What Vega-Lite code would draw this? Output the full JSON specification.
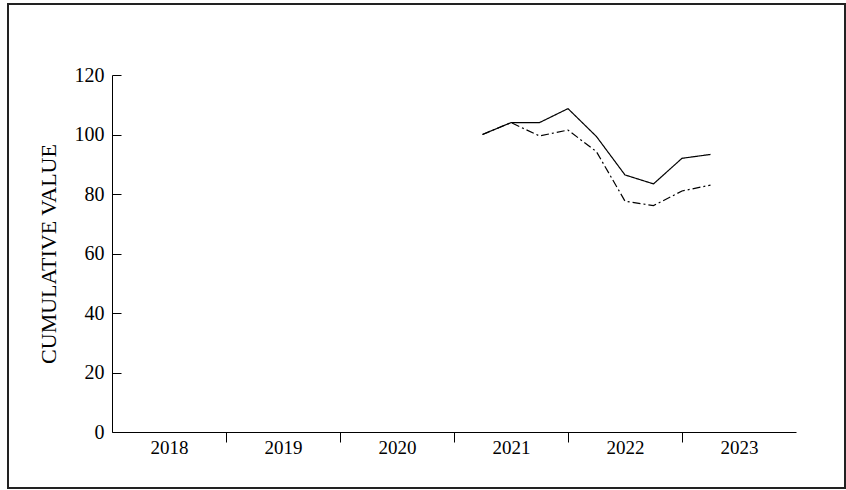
{
  "$schema": "https://vega.github.io/schema/vega-lite/v6.json",
  "width": 837,
  "height": 484,
  "autosize": "none",
  "padding": {"left": 8, "top": 4, "right": 1, "bottom": 2},
  "background": "white",
  "config": {
    "view": {"stroke": "#222222", "strokeWidth": 2},
    "font": "Liberation Serif",
    "axis": {
      "labelFont": "Liberation Serif",
      "titleFont": "Liberation Serif",
      "labelColor": "black",
      "titleColor": "black",
      "domainColor": "black",
      "tickColor": "black",
      "domainWidth": 1,
      "tickWidth": 1,
      "grid": false,
      "labelFontSize": 19,
      "titleFontSize": 22,
      "titleFontWeight": "normal"
    }
  },
  "data": {
    "values": [
      {"t": 2021.25, "v": 100, "series": "A"},
      {"t": 2021.5, "v": 104, "series": "A"},
      {"t": 2021.75, "v": 104, "series": "A"},
      {"t": 2022.0, "v": 108.7, "series": "A"},
      {"t": 2022.25, "v": 99.3, "series": "A"},
      {"t": 2022.5, "v": 86.4, "series": "A"},
      {"t": 2022.75, "v": 83.4, "series": "A"},
      {"t": 2023.0, "v": 92.0, "series": "A"},
      {"t": 2023.25, "v": 93.3, "series": "A"},
      {"t": 2021.25, "v": 100, "series": "B"},
      {"t": 2021.5, "v": 104, "series": "B"},
      {"t": 2021.75, "v": 99.5, "series": "B"},
      {"t": 2022.0, "v": 101.5, "series": "B"},
      {"t": 2022.25, "v": 94.2, "series": "B"},
      {"t": 2022.5, "v": 77.6, "series": "B"},
      {"t": 2022.75, "v": 76.1, "series": "B"},
      {"t": 2023.0, "v": 81.0, "series": "B"},
      {"t": 2023.25, "v": 83.0, "series": "B"}
    ]
  },
  "mark": {"type": "line", "color": "black", "strokeWidth": 1.2},
  "encoding": {
    "x": {
      "field": "t",
      "type": "quantitative",
      "scale": {"domain": [2018, 2024], "range": [104, 788], "nice": false, "zero": false},
      "axis": {
        "orient": "bottom",
        "offset": -56,
        "values": [2018, 2019, 2020, 2021, 2022, 2023],
        "format": "d",
        "labelOffset": 57,
        "labelPadding": -4,
        "labelFlush": false,
        "labelOverlap": false,
        "tickSize": 10,
        "tickOpacity": {"condition": {"test": "datum.value == 2018", "value": 0}, "value": 1},
        "title": null
      }
    },
    "y": {
      "field": "v",
      "type": "quantitative",
      "scale": {"domain": [0, 120], "range": [428, 71], "nice": false},
      "axis": {
        "offset": -104,
        "values": [0, 20, 40, 60, 80, 100, 120],
        "tickSize": -9,
        "labelPadding": 17,
        "labelFontSize": 20,
        "labelFlush": false,
        "title": "CUMULATIVE VALUE",
        "titlePadding": 14
      }
    },
    "strokeDash": {
      "field": "series",
      "type": "nominal",
      "scale": {"domain": ["A", "B"], "range": [[1, 0], [8, 3, 2, 3]]},
      "legend": null
    }
  }
}
